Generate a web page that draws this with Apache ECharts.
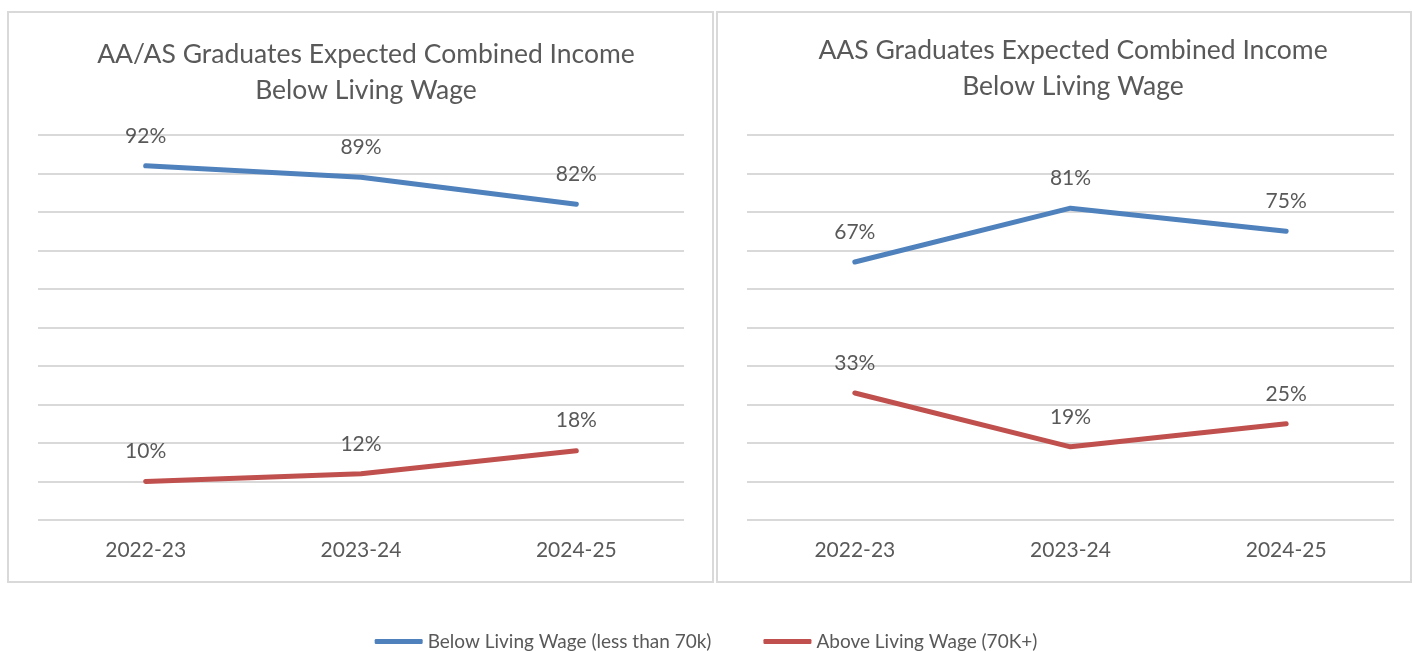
<!DOCTYPE html>
<html>
<head>
<meta charset="utf-8">
<script src="https://cdn.jsdelivr.net/npm/echarts@6/dist/echarts.min.js"></script>
<style>
  html, body { margin: 0; padding: 0; background: #fff; }
  #main { width: 1412px; height: 651px; }
</style>
</head>
<body>
<div id="main"></div>
<script>
const years = ['2022-23', '2023-24', '2024-25'];
const seriesNames = ['Below Living Wage (less than 70k)', 'Above Living Wage (70K+)'];
const titles = [
  'AA/AS Graduates Expected Combined Income\nBelow Living Wage',
  'AAS Graduates Expected Combined Income\nBelow Living Wage'
];
// percent values per panel
const aaAsBelow = [92, 89, 82];
const aaAsAbove = [10, 12, 18];
const aasBelow = [67, 81, 75];
const aasAbove = [33, 19, 25];

const BLUE = '#4f81bd';
const RED = '#c0504d';
const TEXT = '#595959';
const GRID = '#d9d9d9';
const FONT = 'Lato';

const myChart = echarts.init(document.getElementById('main'));

function lineSeries(name, data, color, idx) {
  return {
    name: name,
    type: 'line',
    xAxisIndex: idx,
    yAxisIndex: idx,
    data: data,
    symbol: 'circle',
    symbolSize: 1,
    showSymbol: true,
    itemStyle: { color: color },
    lineStyle: { color: color, width: 5, cap: 'round', join: 'round' },
    label: {
      show: true,
      position: 'top',
      distance: 19,
      formatter: '{c}%',
      color: TEXT,
      fontFamily: FONT,
      fontSize: 21
    },
    emphasis: { disabled: true },
    animation: false
  };
}

const grids = [
  { left: 38, width: 646, top: 135, bottom: 131 },
  { left: 747, width: 647, top: 135, bottom: 131 }
];

const option = {
  backgroundColor: '#fff',
  graphic: [
    { type: 'rect', shape: { x: 8, y: 12, width: 705, height: 570 },
      style: { fill: 'none', stroke: GRID, lineWidth: 2 }, z: -1 },
    { type: 'rect', shape: { x: 717, y: 12, width: 694, height: 570 },
      style: { fill: 'none', stroke: GRID, lineWidth: 2 }, z: -1 }
  ],
  title: [
    { text: titles[0], left: 361, top: 31, textAlign: 'center',
      textStyle: { color: TEXT, fontFamily: FONT, fontSize: 26.5, fontWeight: 'normal', lineHeight: 36 } },
    { text: titles[1], left: 1068, top: 27, textAlign: 'center',
      textStyle: { color: TEXT, fontFamily: FONT, fontSize: 26.5, fontWeight: 'normal', lineHeight: 36 } }
  ],
  legend: {
    data: seriesNames,
    top: 627,
    left: 'center',
    itemWidth: 48,
    itemHeight: 5,
    itemGap: 52,
    icon: 'roundRect',
    textStyle: { color: TEXT, fontFamily: FONT, fontSize: 19 }
  },
  grid: grids,
  xAxis: [0, 1].map(i => ({
    type: 'category',
    gridIndex: i,
    data: years,
    boundaryGap: true,
    axisLine: { show: false },
    axisTick: { show: false },
    axisLabel: { color: TEXT, fontFamily: FONT, fontSize: 21, margin: 20 }
  })),
  yAxis: [0, 1].map(i => ({
    type: 'value',
    gridIndex: i,
    min: 0,
    max: 100,
    interval: 10,
    axisLine: { show: false },
    axisTick: { show: false },
    axisLabel: { show: false },
    splitLine: { lineStyle: { color: GRID, width: 2 } }
  })),
  series: [
    lineSeries(seriesNames[0], aaAsBelow, BLUE, 0),
    lineSeries(seriesNames[1], aaAsAbove, RED, 0),
    lineSeries(seriesNames[0], aasBelow, BLUE, 1),
    lineSeries(seriesNames[1], aasAbove, RED, 1)
  ]
};

myChart.setOption(option);
</script>
</body>
</html>
